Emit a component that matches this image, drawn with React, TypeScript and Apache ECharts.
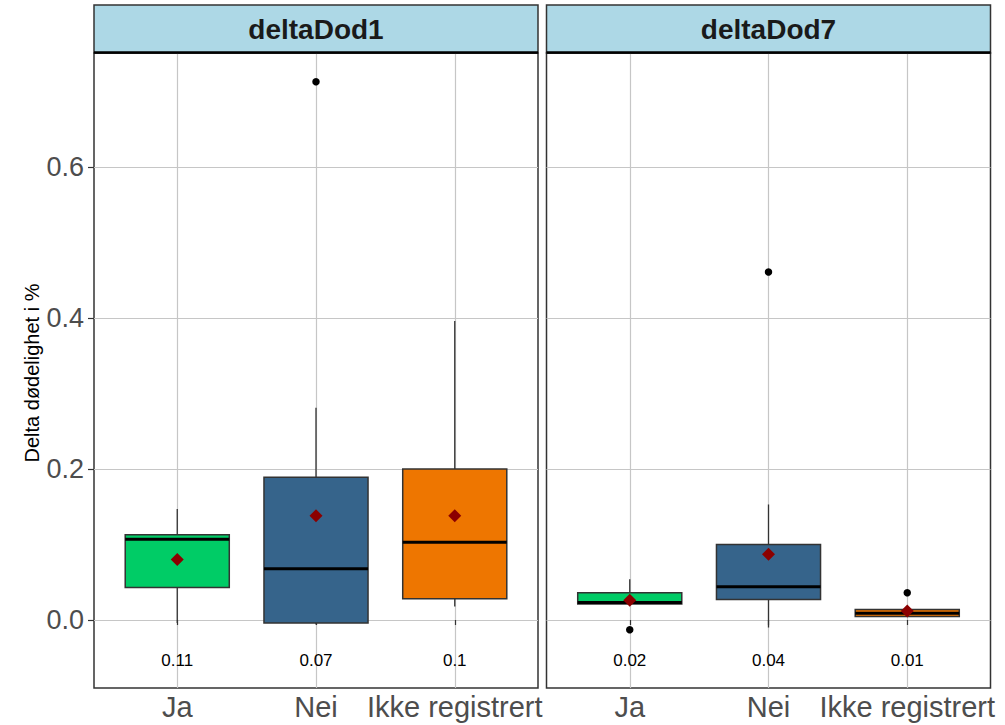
import React, { useEffect, useRef } from 'react';
import * as echarts from 'echarts';

const categories = ['Ja', 'Nei', 'Ikke registrert'];
const panels = ['deltaDod1', 'deltaDod7'];
const boxColors = ['#00CC66', '#36648B', '#EE7600'];
// [lowerWhisker, q1, median, q3, upperWhisker]
const boxes1 = [
  [-0.004, 0.043, 0.107, 0.113, 0.147],
  [-0.006, -0.004, 0.068, 0.189, 0.281],
  [0.018, 0.028, 0.103, 0.2, 0.396],
];
const boxes7 = [
  [0.021, 0.021, 0.023, 0.036, 0.054],
  [-0.01, 0.027, 0.044, 0.1, 0.153],
  [0.004, 0.0045, 0.009, 0.014, 0.0145],
];
const means1 = [0.08, 0.138, 0.138];
const means7 = [0.026, 0.087, 0.012];
const outliers1 = [[2, 0.713]];
const outliers7 = [[1, -0.013], [2, 0.461], [3, 0.036]];
const labels1 = ['0.11', '0.07', '0.1'];
const labels7 = ['0.02', '0.04', '0.01'];
const labelY = -0.054;
const yTicks = [0, 0.2, 0.4, 0.6];
const xTicks = [1, 2, 3];

const FONT = 'Liberation Sans, Arial, sans-serif';
const gridLeft = [94, 546.5];
const gridWidth = 444;
const gridTop = 53;
const gridHeight = 635;

export default function App() {
  const ref = useRef<HTMLDivElement>(null);
  useEffect(() => {
    if (!ref.current) return;
    const chart = echarts.init(ref.current, undefined, { renderer: 'svg' });

    const renderBox = (params: any, api: any) => {
      const x = api.value(0);
      const lo = api.value(1), q1 = api.value(2), med = api.value(3), q3 = api.value(4), hi = api.value(5);
      const w = api.size([0.75, 0])[0];
      const pq3 = api.coord([x, q3]);
      const cx = pq3[0];
      const yq3 = pq3[1];
      const yq1 = api.coord([x, q1])[1];
      const ymed = api.coord([x, med])[1];
      const ylo = api.coord([x, lo])[1];
      const yhi = api.coord([x, hi])[1];
      const color = boxColors[Math.round(x) - 1];
      return {
        type: 'group',
        children: [
          { type: 'line', shape: { x1: cx, y1: yhi, x2: cx, y2: yq3 }, style: { stroke: '#333333', lineWidth: 1.3 } },
          { type: 'line', shape: { x1: cx, y1: yq1, x2: cx, y2: ylo }, style: { stroke: '#333333', lineWidth: 1.3 } },
          { type: 'rect', shape: { x: cx - w / 2, y: yq3, width: w, height: yq1 - yq3 }, style: { fill: color, stroke: '#333333', lineWidth: 1.5 } },
          { type: 'line', shape: { x1: cx - w / 2, y1: ymed, x2: cx + w / 2, y2: ymed }, style: { stroke: '#000000', lineWidth: 3 } },
        ],
      };
    };

    const makeLabelRender = (labels: string[]) => (params: any, api: any) => {
      const p = api.coord([api.value(0), api.value(1)]);
      return {
        type: 'text',
        x: p[0],
        y: p[1],
        style: {
          text: labels[params.dataIndex],
          fontSize: 17,
          fontFamily: FONT,
          fill: '#000000',
          align: 'center',
          verticalAlign: 'middle',
        },
      };
    };

    const grids = gridLeft.map((l) => ({
      left: l,
      top: gridTop,
      width: gridWidth,
      height: gridHeight,
      show: true,
      borderColor: '#333333',
      borderWidth: 1.5,
      backgroundColor: '#ffffff',
    }));

    const xAxes = [0, 1].map((i) => ({
      gridIndex: i,
      type: 'value',
      min: 0.4,
      max: 3.6,
      axisLine: { show: false },
      axisTick: { show: true, customValues: xTicks, length: 5, lineStyle: { color: '#333333', width: 1.2 } },
      axisLabel: {
        customValues: xTicks,
        formatter: (v: number) => categories[Math.round(v) - 1],
        fontSize: 29,
        fontFamily: FONT,
        color: '#4D4D4D',
        margin: 4,
      },
      splitLine: { show: true, lineStyle: { color: '#C6C6C6', width: 1.2 } },
    }));

    const yAxes = [0, 1].map((i) => ({
      gridIndex: i,
      type: 'value',
      min: -0.0901,
      max: 0.751,
      axisLine: { show: false },
      axisTick: { show: i === 0, customValues: yTicks, length: 6, lineStyle: { color: '#333333', width: 1.2 } },
      axisLabel: {
        show: i === 0,
        customValues: yTicks,
        formatter: (v: number) => v.toFixed(1),
        fontSize: 27,
        fontFamily: FONT,
        color: '#4D4D4D',
        margin: 10,
      },
      splitLine: { show: true, lineStyle: { color: '#C6C6C6', width: 1.2 } },
    }));

    const panelData = [
      { boxes: boxes1, means: means1, outliers: outliers1, labels: labels1 },
      { boxes: boxes7, means: means7, outliers: outliers7, labels: labels7 },
    ];

    const series: any[] = [];
    panelData.forEach((pd, i) => {
      series.push({
        type: 'custom',
        xAxisIndex: i,
        yAxisIndex: i,
        renderItem: renderBox,
        encode: { x: 0, y: [1, 2, 3, 4, 5] },
        data: pd.boxes.map((b, j) => [xTicks[j], ...b]),
        z: 2,
      });
      series.push({
        type: 'scatter',
        xAxisIndex: i,
        yAxisIndex: i,
        symbol: 'circle',
        symbolSize: 7.5,
        itemStyle: { color: '#000000', opacity: 1 },
        data: pd.outliers,
        z: 3,
      });
      series.push({
        type: 'scatter',
        xAxisIndex: i,
        yAxisIndex: i,
        symbol: 'diamond',
        symbolSize: 13,
        itemStyle: { color: '#8B0000', opacity: 1 },
        data: pd.means.map((m, j) => [xTicks[j], m]),
        z: 4,
      });
      series.push({
        type: 'custom',
        xAxisIndex: i,
        yAxisIndex: i,
        renderItem: makeLabelRender(pd.labels),
        data: pd.labels.map((_, j) => [xTicks[j], labelY]),
        z: 5,
      });
    });

    const graphics: any[] = [];
    gridLeft.forEach((l, i) => {
      graphics.push({
        type: 'rect',
        shape: { x: l, y: 5, width: gridWidth, height: gridTop - 5 },
        style: { fill: '#ADD8E6', stroke: '#333333', lineWidth: 1.5 },
        z: 10,
      });
      graphics.push({
        type: 'line',
        shape: { x1: l, y1: gridTop - 0.5, x2: l + gridWidth, y2: gridTop - 0.5 },
        style: { stroke: '#000000', lineWidth: 2.5 },
        z: 11,
      });
      graphics.push({
        type: 'text',
        x: l + gridWidth / 2,
        y: 29,
        style: {
          text: panels[i],
          fontSize: 28,
          fontWeight: 'bold',
          fontFamily: FONT,
          fill: '#1A1A1A',
          align: 'center',
          verticalAlign: 'middle',
        },
        z: 12,
      });
    });
    graphics.push({
      type: 'text',
      x: 32,
      y: 373,
      rotation: Math.PI / 2,
      style: {
        text: 'Delta dødelighet i %',
        fontSize: 20,
        fontFamily: FONT,
        fill: '#000000',
        align: 'center',
        verticalAlign: 'middle',
      },
      z: 12,
    });

    chart.setOption({
      animation: false,
      backgroundColor: '#ffffff',
      grid: grids,
      xAxis: xAxes,
      yAxis: yAxes,
      series,
      graphic: graphics,
    });
    return () => chart.dispose();
  }, []);
  return <div ref={ref} style={{ position: 'absolute', left: 0, top: 0, width: 1005, height: 725 }} />;
}
